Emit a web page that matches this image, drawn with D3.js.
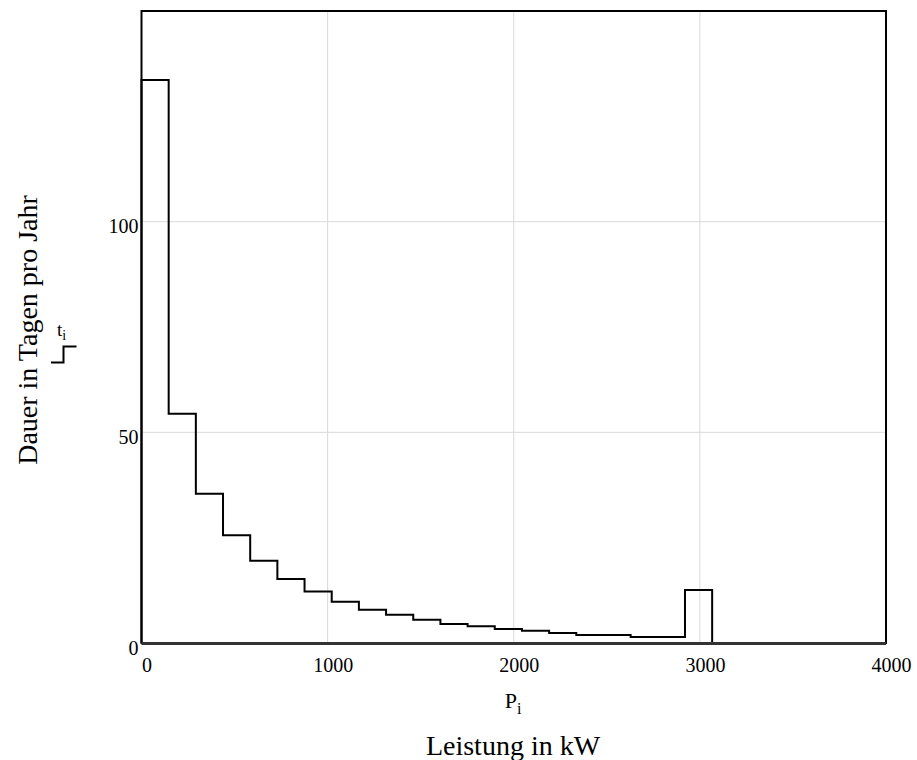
<!DOCTYPE html>
<html>
<head>
<meta charset="utf-8">
<script src="https://cdn.jsdelivr.net/npm/d3@7"></script>
<style>
  body { margin: 0; background: #fff; }
  svg { display: block; font-family: "Liberation Serif", "Times New Roman", serif; }
</style>
</head>
<body>
<svg id="chart" width="917" height="760"></svg>
<script>
// left edge of each power class in kW
var P = [0, 146, 292, 438, 584, 730, 876, 1022, 1168, 1314, 1460,
         1606, 1752, 1898, 2044, 2190, 2336, 2482, 2628, 2774, 2920];
var Pend = 3066;
// days per year in each class
var t = [133.6, 54.4, 35.4, 25.6, 19.5, 15.2, 12.2, 9.8, 7.9, 6.7, 5.5,
         4.5, 4.0, 3.3, 2.9, 2.4, 1.9, 1.9, 1.4, 1.4, 12.6];
var xTicks = [0, 1000, 2000, 3000, 4000];
var yTicks = [0, 50, 100];
var xGrid = [1000, 2000, 3000];
var yGrid = [50, 100];

var svg = d3.select("#chart");
// note: "top" is window.top, don't use it as a name
var pLeft = 141.5, pRight = 886, pTop = 11, pBottom = 643;

var x = d3.scaleLinear().domain([0, 4000]).range([pLeft, pRight]);
var y = d3.scaleLinear().domain([0, 150]).range([pBottom, pTop]);

// grid
svg.append("g").selectAll("line").data(xGrid).enter().append("line")
    .attr("x1", function(d) { return x(d); }).attr("x2", function(d) { return x(d); })
    .attr("y1", pTop).attr("y2", pBottom)
    .attr("stroke", "#d9d9d9").attr("stroke-width", 1);
svg.append("g").selectAll("line").data(yGrid).enter().append("line")
    .attr("y1", function(d) { return y(d); }).attr("y2", function(d) { return y(d); })
    .attr("x1", pLeft).attr("x2", pRight)
    .attr("stroke", "#d9d9d9").attr("stroke-width", 1);

// axes, labels only
var xAxis = svg.append("g").attr("transform", "translate(0," + pBottom + ")")
    .call(d3.axisBottom(x).tickValues(xTicks).tickSize(0).tickFormat(d3.format("d")));
xAxis.select(".domain").remove();
xAxis.selectAll("text")
    .attr("y", 29).attr("dy", 0).attr("dx", 5)
    .attr("fill", "#000")
    .style("font-size", "20px").style("font-family", "Liberation Serif, serif");

var yAxis = svg.append("g").attr("transform", "translate(" + pLeft + ",0)")
    .call(d3.axisLeft(y).tickValues(yTicks).tickSize(0).tickPadding(3).tickFormat(d3.format("d")));
yAxis.select(".domain").remove();
yAxis.selectAll("text")
    .attr("dy", "0.55em")
    .attr("fill", "#000")
    .style("font-size", "20px").style("font-family", "Liberation Serif, serif");

// step curve t_i over P_i
var pts = [[0, 0]];
for (var i = 0; i < P.length; i++) { pts.push([P[i], t[i]]); }
pts.push([Pend, t[t.length - 1]]);
pts.push([Pend, 0]);

var line = d3.line()
    .x(function(d) { return x(d[0]); })
    .y(function(d) { return y(d[1]); })
    .curve(d3.curveStepAfter);

svg.append("path").datum(pts)
    .attr("d", line)
    .attr("fill", "none")
    .attr("stroke", "#000")
    .attr("stroke-width", 2);

// frame
svg.append("rect")
    .attr("x", pLeft).attr("y", pTop)
    .attr("width", pRight - pLeft).attr("height", pBottom - pTop)
    .attr("fill", "none").attr("stroke", "#000").attr("stroke-width", 2);
svg.append("line")
    .attr("x1", pLeft).attr("x2", pRight).attr("y1", pBottom + 0.5).attr("y2", pBottom + 0.5)
    .attr("stroke", "#333").attr("stroke-width", 3);

// axis titles
var pl = svg.append("text").attr("x", 513).attr("y", 708)
    .attr("text-anchor", "middle").style("font-size", "22px");
pl.append("tspan").text("P");
pl.append("tspan").attr("dy", 6).style("font-size", "16px").text("i");

svg.append("text").attr("x", 513).attr("y", 755)
    .attr("text-anchor", "middle").style("font-size", "28px")
    .text("Leistung in kW");

svg.append("text")
    .attr("transform", "translate(37,330) rotate(-90)")
    .attr("text-anchor", "middle").style("font-size", "28px")
    .text("Dauer in Tagen pro Jahr");

// legend entry
var lg = svg.append("text").attr("x", 57).attr("y", 336).style("font-size", "19px");
lg.append("tspan").text("t");
lg.append("tspan").attr("dy", 4).style("font-size", "14px").text("i");
svg.append("path")
    .attr("d", "M51,362.5H63.5V346.5H76.5")
    .attr("fill", "none").attr("stroke", "#000").attr("stroke-width", 2);
</script>
</body>
</html>
